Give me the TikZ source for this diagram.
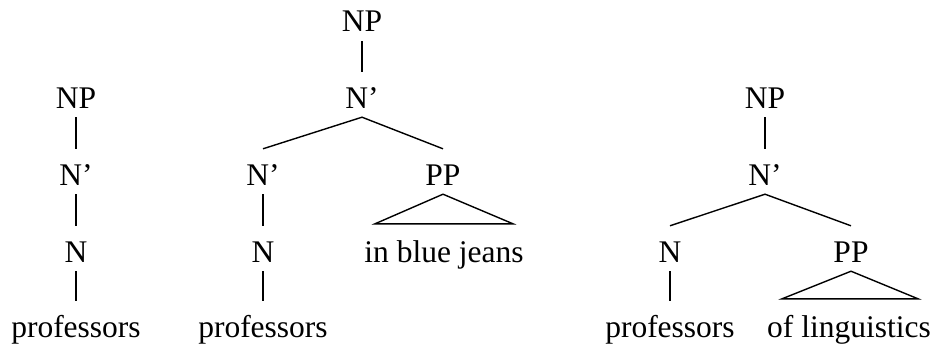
\documentclass[tikz,border=0pt]{standalone}
\usepackage{fontspec}
\setmainfont{Liberation Serif}
\usetikzlibrary{calc}
\begin{document}
\begin{tikzpicture}[x=1pt,y=-1pt,
  lab/.style={anchor=base,inner sep=0pt,text height=36pt,text depth=9pt,font=\fontsize{31.5pt}{36pt}\selectfont},
  edge/.style={line width=1.4pt,black}]
\useasboundingbox (0,0) rectangle (935,353);
% Tree 1
\node[lab] (a1) at (76,108) {NP};
\node[lab] (a2) at (76,185) {N’};
\node[lab] (a3) at (76,262) {N};
\node[lab] (a4) at (76,337) {professors};
\draw[edge] (a1.south) -- (a2.north);
\draw[edge] (a2.south) -- (a3.north);
\draw[edge] (a3.south) -- (a4.north);
% Tree 2
\node[lab] (b1) at (362,32) {NP};
\node[lab] (b2) at (362,108) {N’};
\node[lab] (b3) at (263,185) {N’};
\node[lab] (b4) at (443,185) {PP};
\node[lab] (b5) at (263,262) {N};
\node[lab] (b6) at (263,337) {professors};
\node[lab] (b7) at (444,262) {in blue jeans};
\draw[edge] (b1.south) -- (b2.north);
\draw[edge] (b3.north) -- (b2.south) -- (b4.north);
\draw[edge] (b3.south) -- (b5.north);
\draw[edge] (b5.south) -- (b6.north);
\draw[edge,line join=miter] (b4.south) -- ($(b7.north)+(-69,-2)$) -- ($(b7.north)+(69,-2)$) -- cycle;
% Tree 3
\node[lab] (c1) at (765,108) {NP};
\node[lab] (c2) at (765,185) {N’};
\node[lab] (c3) at (670,262) {N};
\node[lab] (c4) at (851,262) {PP};
\node[lab] (c5) at (670,337) {professors};
\node[lab] (c6) at (849,337) {of linguistics};
\draw[edge] (c1.south) -- (c2.north);
\draw[edge] (c3.north) -- (c2.south) -- (c4.north);
\draw[edge] (c3.south) -- (c5.north);
\draw[edge,line join=miter] (c4.south) -- ($(c6.north)+(-67,-2)$) -- ($(c6.north)+(69,-2)$) -- cycle;
\end{tikzpicture}
\end{document}
